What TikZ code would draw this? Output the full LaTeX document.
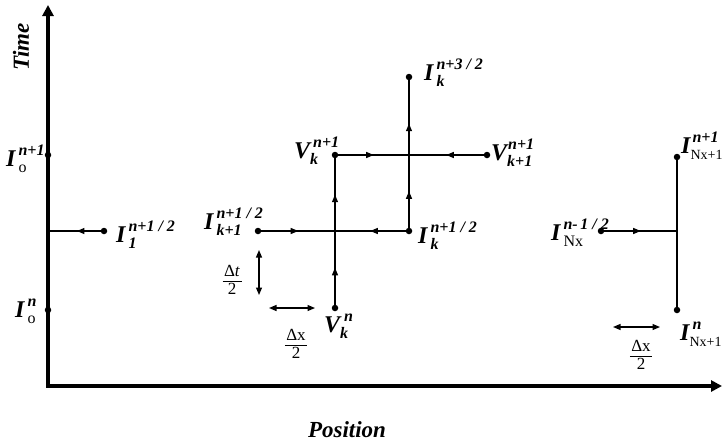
\documentclass[tikz,border=0pt]{standalone}
\usepackage{fontspec}
\setmainfont{Liberation Serif}
\usetikzlibrary{arrows.meta,decorations.markings}

\newsavebox\lbsup
\newsavebox\lbsub
\newlength\lbw
% #1 main letter, #2 sup kern, #3 sup, #4 sub kern, #5 sub
\newcommand\Lb[5]{%
{\fontsize{24}{24}\selectfont\bfseries\itshape #1}%
\sbox\lbsup{\kern#2\fontsize{16}{16}\selectfont\bfseries\itshape #3}%
\sbox\lbsub{\kern#4\fontsize{16}{16}\selectfont #5}%
\ifdim\wd\lbsup>\wd\lbsub \setlength\lbw{\wd\lbsup}\else\setlength\lbw{\wd\lbsub}\fi
\rlap{\raisebox{10.5pt}{\usebox\lbsup}}\rlap{\raisebox{-6pt}{\usebox\lbsub}}\hspace*{\lbw}}
\newcommand\bi[1]{{\bfseries\itshape #1}}
\newcommand\sm[1]{{\fontsize{14}{14}\selectfont #1}}
\newcommand\frc[2]{{\setlength\arrayrulewidth{0.9pt}\renewcommand\arraystretch{0.9}%
\begin{tabular}{@{\kern1.5pt}c@{\kern1.5pt}}#1\\\hline\rule{0pt}{13pt}#2\end{tabular}}}

\tikzset{
  dot/.style={circle,fill,inner sep=0pt,minimum size=6.5pt},
  lab/.style={anchor=base west,inner sep=0pt},
  wire/.style={line width=1.2pt},
  midarrow/.style={postaction={decorate},decoration={markings,
    mark=at position #1 with {\arrow{Triangle[length=7.5pt,width=6pt]}}}},
  midarrow/.default=0.5,
  axis/.style={line width=3.5pt,{Triangle[length=11pt,width=11pt]}-{Triangle[length=11pt,width=11pt]}},
  dbl/.style={line width=1.2pt,{Triangle[length=7.5pt,width=6pt]}-{Triangle[length=7.5pt,width=6pt]}},
  ttl/.style={font=\fontsize{23}{23}\selectfont\bfseries\itshape,inner sep=0pt},
  frac/.style={font=\fontsize{17}{17}\selectfont,inner sep=0pt}
}

\begin{document}
\begin{tikzpicture}[x=1pt,y=-1pt]
\useasboundingbox (0,0) rectangle (725,442);
\coordinate (O) at (48,386);
\coordinate (ytop) at (48,5);
\coordinate (xend) at (722,386);
\draw[axis] (ytop) -- (O) -- (xend);

\node[ttl,rotate=90] (time) at (21,47) {Time};
\node[ttl] (pos) at (347,430) {Position};

\node[dot] (Io1) at (48,155) {};
\node[dot] (Io0) at (48,310) {};
\coordinate (Imid) at (48,231);
\node[dot] (I1) at (104,231) {};
\node[dot] (Ik1) at (258,231) {};
\node[dot] (Ik) at (409,231) {};
\node[dot] (Vkn) at (335,308) {};
\node[dot] (Vk1) at (335,155) {};
\node[dot] (Vkk) at (487,155) {};
\node[dot] (Ik32) at (409,77) {};
\coordinate (X1) at (335,231);
\coordinate (X2) at (409,155);
\node[dot] (INx) at (601,231) {};
\coordinate (X3) at (677,231);
\node[dot] (INt) at (677,157) {};
\node[dot] (INb) at (677,310) {};

\draw[wire,midarrow=0.45] (I1) -- (Imid);
\draw[wire,midarrow] (Ik1) -- (X1);
\draw[wire,midarrow] (Ik) -- (X1);
\draw[wire,midarrow] (Vkn) -- (X1);
\draw[wire,midarrow] (X1) -- (Vk1);
\draw[wire,midarrow] (Vk1) -- (X2);
\draw[wire,midarrow] (Vkk) -- (X2);
\draw[wire,midarrow] (Ik) -- (X2);
\draw[wire,midarrow=0.42] (X2) -- (Ik32);
\draw[wire,midarrow] (INx) -- (X3);
\draw[wire] (INt) -- (INb);

\coordinate (dt1) at (259,250);
\coordinate (dt2) at (259,295);
\draw[dbl] (dt1) -- (dt2);
\coordinate (dxa) at (269,308);
\coordinate (dxb) at (315,308);
\draw[dbl] (dxa) -- (dxb);
\coordinate (dxc) at (613,327);
\coordinate (dxd) at (660,327);
\draw[dbl] (dxc) -- (dxd);

\node[frac] (fdt) at (232,282) {\frc{Δ\textit{t}}{2}};
\node[frac] (fdx1) at (296,346) {\frc{Δx}{2}};
\node[frac] (fdx2) at (641,357) {\frc{Δx}{2}};

\node[lab] (lIo1) at (6,166) {\Lb{I}{3pt}{n+1}{3pt}{o}};
\node[lab] (lIo0) at (15,317) {\Lb{I}{3pt}{n}{3pt}{o}};
\node[lab] (lI1) at (116,242) {\Lb{I}{3pt}{n+1 / 2}{3pt}{\bi{1}}};
\node[lab] (lIk1) at (204,229) {\Lb{I}{3pt}{n+1 / 2}{3pt}{\bi{k+1}}};
\node[lab] (lIk) at (418,243) {\Lb{I}{3pt}{n+1 / 2}{3pt}{\bi{k}}};
\node[lab] (lVk1) at (294,158) {\Lb{V}{3pt}{n+1}{0pt}{\bi{k}}};
\node[lab] (lVkk) at (491,160) {\Lb{V}{1pt}{n+1}{0pt}{\bi{k+1}}};
\node[lab] (lIk32) at (424,80) {\Lb{I}{3pt}{n+3 / 2}{3pt}{\bi{k}}};
\node[lab] (lVkn) at (324,332) {\Lb{V}{4pt}{n}{0pt}{\bi{k}}};
\node[lab] (lINx) at (551,240) {\Lb{I}{3pt}{n-\,1 / 2}{3pt}{Nx}};
\node[lab] (lINt) at (681,153) {\Lb{I}{2pt}{n+1}{0pt}{\sm{Nx+1}}};
\node[lab] (lINb) at (680,340) {\Lb{I}{3pt}{n}{0pt}{\sm{Nx+1}}};
\end{tikzpicture}
\end{document}
